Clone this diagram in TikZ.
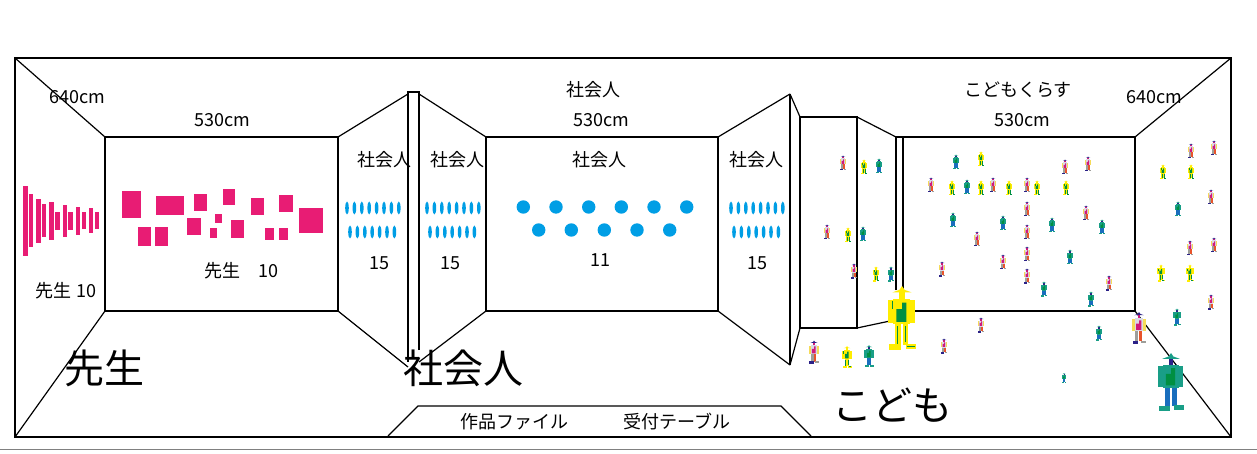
\documentclass[tikz,border=0pt]{standalone}
\usepackage{fontspec}
\setmainfont{Noto Sans CJK JP}
\definecolor{Sensei_pink}{rgb}{0.910, 0.110, 0.455}
\definecolor{Shakai_blue}{rgb}{0.000, 0.620, 0.900}
\definecolor{Kodomo_teal}{rgb}{0.100, 0.620, 0.530}
\definecolor{Kodomo_yellow}{rgb}{1.000, 0.930, 0.000}
\definecolor{Chest_green}{rgb}{0.000, 0.560, 0.260}
\definecolor{Leg_blue}{rgb}{0.100, 0.430, 0.740}
\definecolor{Hat_navy}{rgb}{0.170, 0.130, 0.530}
\definecolor{Shirt_pale}{rgb}{0.850, 0.850, 0.900}
\definecolor{Hair_yellow}{rgb}{0.960, 0.860, 0.350}
\definecolor{Tie_pink}{rgb}{0.820, 0.100, 0.480}
\definecolor{Leg_orange}{rgb}{0.910, 0.330, 0.170}
\definecolor{Foot_gray}{rgb}{0.620, 0.620, 0.600}
\newcommand{\robotbody}[9]{
  \fill[#4] (-22,-28) rectangle (-14,8);
  \fill[#4] (13,-28) rectangle (21,8);
  \fill[#3] (-14,-30) rectangle (13,10);
  \fill[#2] (-4,-42) rectangle (4,-30);
  \fill[#1] (-15,-40) -- (-4,-44) -- (0,-50) -- (4,-44) -- (15,-40) -- cycle;
  \fill[#5] (-9,-14) -- (0,-14) -- (0,-24) -- (7,-24) -- (7,6) -- (-9,6) -- cycle;
  \fill[#6] (-11,10) rectangle (-2,44);
  \fill[#7] (1,10) rectangle (10,42);
  \fill[#8] (-20,41) rectangle (-2,50);
  \fill[#9] (6,40) rectangle (22,48);
}
\tikzset{
  wall/.style={draw=black, line width=1.2pt, line join=miter},
  label_text/.style={inner sep=0pt, yshift=-1pt, font=\fontsize{18}{20}\selectfont},
  big_text/.style={inner sep=0pt, font=\fontsize{40}{44}\selectfont},
  pics/person_fig/.style={code={
    \robotbody{Hat_navy}{Tie_pink}{Shirt_pale}{Hair_yellow}{Tie_pink}{Foot_gray}{Leg_orange}{Hat_navy}{Foot_gray}
  }},
  pics/yellow_fig/.style={code={
    \robotbody{Kodomo_yellow}{Kodomo_yellow}{Kodomo_yellow}{Kodomo_yellow}{Chest_green}{Kodomo_yellow}{Kodomo_yellow}{Kodomo_yellow}{Kodomo_yellow}
    \fill[Chest_green] (-7.5,12) rectangle (-5.5,40);
    \fill[Chest_green] (4.5,12) rectangle (6.5,38);
    \fill[Chest_green] (-16,-26) rectangle (-14,-14);
    \fill[Chest_green] (8,43) rectangle (20,45);
  }},
  pics/teal_fig/.style={code={
    \robotbody{Kodomo_teal}{Hat_navy}{Kodomo_teal}{Kodomo_teal}{Chest_green}{Leg_blue}{Leg_blue}{Kodomo_teal}{Kodomo_teal}
  }}
}

\begin{document}
\begin{tikzpicture}[x=1pt, y=-1pt]
  \useasboundingbox (0,0) rectangle (1257,454);
  \draw[gray, line width=0.8pt] (0,449) -- (1257,449);
  \draw[wall] (15,58) rectangle (1231,437);
  \begin{scope}[wall]
    % left room
    \draw[wall] (15,58) -- (105,137);
    \draw[wall] (15,437) -- (105,311);
    \draw[wall] (105,137) rectangle (338,311);
    \draw[wall] (338,137) -- (408,94);
    \draw[wall] (338,311) -- (408,367);
    \draw[wall] (419,350) -- (419,92) -- (408,92) -- (408,362);
    % middle room
    \draw[wall] (419,94) -- (486,137);
    \draw[wall] (419,362) -- (486,311);
    \draw[wall] (486,137) rectangle (718,311);
    \draw[wall] (718,137) -- (790,94);
    \draw[wall] (718,311) -- (790,365);
    \draw[wall] (790,94) -- (790,365);
    \draw[wall] (790,94) -- (800,117);
    \draw[wall] (790,365) -- (800,328);
    % right room
    \draw[wall] (800,117) rectangle (857,328);
    \draw[wall] (857,117) -- (896,137);
    \draw[wall] (857,328) -- (890,321);
    \draw[wall] (896,290) -- (896,137);
    \draw[wall] (903,137) rectangle (1135,311);
    \draw[wall] (896,137) -- (903,137);
    \draw[wall] (1135,137) -- (1231,58);
    \draw[wall] (1135,311) -- (1231,437);
    % table
    \draw[wall] (388,436) -- (418,406) -- (781,406) -- (811,436);
  \end{scope}
  % teacher works
  \foreach \xa/\ya/\xb/\yb in {23/186/28/256, 29/194/33/247, 36/199/41/243, 42/204/46/237, 49/202/54/240, 55/212/60/230, 63/205/67/237, 68/212/73/230, 76/207/80/235, 82/212/86/229, 89/208/93/233, 95/212/99/229}
    \fill[Sensei_pink] (\xa,\ya) rectangle (\xb,\yb);
  \foreach \xa/\ya/\xb/\yb in {122/191/141/218, 156/196/184/215, 194/194/207/211, 223/189/235/205, 251/198/264/215, 279/195/293/212, 299/208/323/233, 138/227/151/246, 155/227/168/246, 187/218/201/235, 215/214/222/223, 210/228/217/238, 231/220/244/238, 265/228/274/240, 279/228/288/240}
    \fill[Sensei_pink] (\xa,\ya) rectangle (\xb,\yb);
  % adult works
  \foreach \xs in {346, 426, 730} {
    \foreach \i in {0,...,7}
      \fill[Shakai_blue] (\xs+\i*7.4+1,208) ellipse (1.8 and 6.5);
    \foreach \i in {0,...,6}
      \fill[Shakai_blue] (\xs+\i*7.4+4,232) ellipse (1.8 and 6.5);
  }
  \foreach \x in {523.3, 556, 588.7, 621.3, 654, 686.7}
    \fill[Shakai_blue] (\x,207) circle (6.7);
  \foreach \x in {538.7, 571.3, 604.3, 637, 669.7}
    \fill[Shakai_blue] (\x,230) circle (6.7);
  % children
  \foreach \x/\y/\s in {843/163/0.15, 827/232/0.15, 854/271/0.15, 814/352/0.23, 944/346/0.15, 981/325/0.15, 931/185/0.15, 993/185/0.15, 1027/185/0.15, 1027/209/0.15, 1027/232/0.15, 1027/254/0.15, 1027/276/0.15, 977/239/0.15, 1003/262/0.15, 942/269/0.15, 1065/167/0.15, 1088/164/0.15, 1086/213/0.15, 1109/283/0.15, 1191/151/0.15, 1214/148/0.15, 1211/197/0.15, 1190/248/0.15, 1214/245/0.15, 1211/302/0.15, 1139/328/0.32}
    \pic[scale=\s] at (\x,\y) {person_fig};
  \foreach \x/\y/\s in {864/167/0.15, 848/235/0.15, 876/274/0.15, 847/357/0.22, 981/159/0.15, 952/188/0.15, 981/188/0.15, 1009/188/0.15, 1037/188/0.15, 1066/188/0.15, 1163/172/0.15, 1191/172/0.15, 1161/273/0.17, 1190/273/0.17, 902/318/0.64}
    \pic[scale=\s] at (\x,\y) {yellow_fig};
  \foreach \x/\y/\s in {879/166/0.15, 863/234/0.15, 891/274/0.15, 869/356/0.22, 956/162/0.15, 967/187/0.15, 953/220/0.15, 1003/223/0.15, 1052/225/0.15, 1102/227/0.15, 1070/257/0.15, 1044/289/0.15, 1091/299/0.15, 1099/333/0.15, 1064/378/0.1, 1178/209/0.15, 1177/317/0.17, 1171/382/0.58}
    \pic[scale=\s] at (\x,\y) {teal_fig};
  % texts
  \node[label_text] (left_len) at (77,96) {640cm};
  \node[label_text] (left_wid) at (222,119) {530cm};
  \node[label_text] (wing_a) at (384,159) {社会人};
  \node[label_text] (wing_b) at (457,159) {社会人};
  \node[label_text] (mid_top) at (593,89) {社会人};
  \node[label_text] (mid_wid) at (601,119) {530cm};
  \node[label_text] (mid_name) at (599,159) {社会人};
  \node[label_text] (wing_c) at (756,159) {社会人};
  \node[label_text] (class_name) at (1018,89) {こどもくらす};
  \node[label_text] (right_wid) at (1022,119) {530cm};
  \node[label_text] (right_len) at (1154,96) {640cm};
  \node[label_text] (count_a) at (379,262) {15};
  \node[label_text] (count_b) at (450,262) {15};
  \node[label_text] (count_c) at (600,259) {11};
  \node[label_text] (count_d) at (757,262) {15};
  \node[label_text] (side_count) at (66,290) {先生 10};
  \node[label_text] (back_count) at (241,270) {先生\hspace{1em}10};
  \node[big_text] (teacher) at (104,368) {先生};
  \node[big_text] (adult) at (463,368) {社会人};
  \node[big_text] (child) at (892,405) {こども};
  \node[label_text] (files) at (514,421) {作品ファイル};
  \node[label_text] (desk) at (677,421) {受付テーブル};
\end{tikzpicture}
\end{document}
